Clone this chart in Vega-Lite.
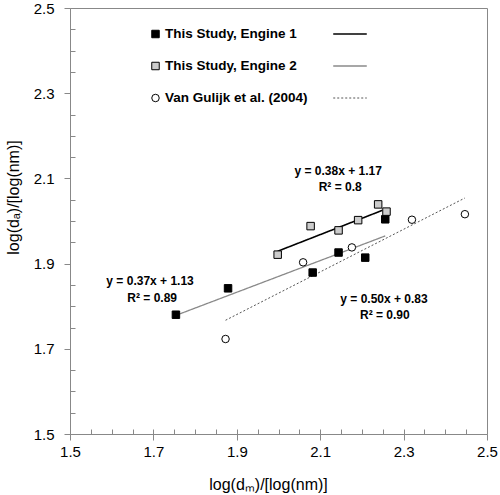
{
  "$schema": "https://vega.github.io/schema/vega-lite/v6.json",
  "width": 417,
  "height": 426,
  "autosize": {"type": "none"},
  "padding": {"left": 70, "top": 8, "right": 13, "bottom": 61},
  "background": "white",
  "config": {
    "view": {"stroke": "#888888", "strokeWidth": 1},
    "axis": {"grid": false, "domainColor": "#888888", "tickColor": "#888888", "labelColor": "#000000", "titleColor": "#000000", "labelFont": "Liberation Sans", "titleFont": "Liberation Sans"},
    "legend": {"symbolStrokeColor": "#000000", "symbolStrokeWidth": 1}
  },
  "datasets": {
    "points": [
      {"series": "This Study, Engine 1", "dm": 1.754, "da": 1.780},
      {"series": "This Study, Engine 1", "dm": 1.879, "da": 1.842},
      {"series": "This Study, Engine 1", "dm": 2.082, "da": 1.879},
      {"series": "This Study, Engine 1", "dm": 2.144, "da": 1.926},
      {"series": "This Study, Engine 1", "dm": 2.208, "da": 1.914},
      {"series": "This Study, Engine 1", "dm": 2.256, "da": 2.004},
      {"series": "This Study, Engine 2", "dm": 1.998, "da": 1.921},
      {"series": "This Study, Engine 2", "dm": 2.077, "da": 1.988},
      {"series": "This Study, Engine 2", "dm": 2.144, "da": 1.978},
      {"series": "This Study, Engine 2", "dm": 2.191, "da": 2.002},
      {"series": "This Study, Engine 2", "dm": 2.239, "da": 2.039},
      {"series": "This Study, Engine 2", "dm": 2.259, "da": 2.022},
      {"series": "Van Gulijk et al. (2004)", "dm": 1.873, "da": 1.723},
      {"series": "Van Gulijk et al. (2004)", "dm": 2.059, "da": 1.903},
      {"series": "Van Gulijk et al. (2004)", "dm": 2.176, "da": 1.938},
      {"series": "Van Gulijk et al. (2004)", "dm": 2.320, "da": 2.003},
      {"series": "Van Gulijk et al. (2004)", "dm": 2.447, "da": 2.016}
    ],
    "fits": [
      {"fit": "Engine 2 fit", "dm": 1.998, "da": 1.929},
      {"fit": "Engine 2 fit", "dm": 2.249, "da": 2.025},
      {"fit": "Engine 1 fit", "dm": 1.758, "da": 1.780},
      {"fit": "Engine 1 fit", "dm": 2.256, "da": 1.965},
      {"fit": "Van Gulijk fit", "dm": 1.873, "da": 1.767},
      {"fit": "Van Gulijk fit", "dm": 2.447, "da": 2.054}
    ],
    "notes": [
      {"label": "y = 0.38x + 1.17", "dm": 2.143, "da": 2.117},
      {"label": "R² = 0.8", "dm": 2.148, "da": 2.079},
      {"label": "y = 0.37x + 1.13", "dm": 1.692, "da": 1.859},
      {"label": "R² = 0.89", "dm": 1.697, "da": 1.819},
      {"label": "y = 0.50x + 0.83", "dm": 2.253, "da": 1.817},
      {"label": "R² = 0.90", "dm": 2.255, "da": 1.779}
    ]
  },
  "resolve": {"axis": {"x": "independent", "y": "independent"}},
  "layer": [
    {
      "data": {"name": "fits"},
      "mark": {"type": "line"},
      "encoding": {
        "x": {"field": "dm", "type": "quantitative", "scale": {"domain": [1.5, 2.5], "nice": false, "zero": false}, "axis": null},
        "y": {"field": "da", "type": "quantitative", "scale": {"domain": [1.5, 2.5], "nice": false, "zero": false}, "axis": null},
        "stroke": {"field": "fit", "type": "nominal", "scale": {"domain": ["Engine 2 fit", "Engine 1 fit", "Van Gulijk fit"], "range": ["#000000", "#8a8a8a", "#555555"]},
          "legend": {"orient": "none", "legendX": 273.25, "legendY": 19.25, "title": null, "symbolType": "M-3.05,0H3.05", "symbolSize": 121, "labelFont": "Liberation Sans", "labelFontWeight": "bold", "labelFontSize": 13.5, "labelOpacity": 0, "labelLimit": 300, "rowPadding": 17, "padding": 0}},
        "strokeDash": {"field": "fit", "type": "nominal", "scale": {"domain": ["Engine 2 fit", "Engine 1 fit", "Van Gulijk fit"], "range": [[1, 0], [1, 0], [2, 2]]},
          "legend": {"orient": "none", "legendX": 273.25, "legendY": 19.25, "title": null, "symbolType": "M-3.05,0H3.05", "symbolSize": 121, "labelFont": "Liberation Sans", "labelFontWeight": "bold", "labelFontSize": 13.5, "labelOpacity": 0, "labelLimit": 300, "rowPadding": 17, "padding": 0}},
        "strokeWidth": {"field": "fit", "type": "nominal", "scale": {"domain": ["Engine 2 fit", "Engine 1 fit", "Van Gulijk fit"], "range": [1.6, 1, 1]},
          "legend": {"orient": "none", "legendX": 273.25, "legendY": 19.25, "title": null, "symbolType": "M-3.05,0H3.05", "symbolSize": 121, "labelFont": "Liberation Sans", "labelFontWeight": "bold", "labelFontSize": 13.5, "labelOpacity": 0, "labelLimit": 300, "rowPadding": 17, "padding": 0}}
      }
    },
    {
      "data": {"name": "points"},
      "mark": {"type": "point", "filled": true, "size": 56, "opacity": 1, "stroke": "#000000", "strokeWidth": 1},
      "encoding": {
        "x": {"field": "dm", "type": "quantitative", "scale": {"domain": [1.5, 2.5], "nice": false, "zero": false},
          "axis": {"orient": "bottom", "values": [1.5, 1.7, 1.9, 2.1, 2.3, 2.5], "format": ".1f", "tickSize": 6, "labelFontSize": 15, "labelPadding": 4, "labelFlush": false, "labelOverlap": false, "title": "log(dₘ)/[log(nm)]", "titleFontSize": 16, "titleFontWeight": "normal", "titleX": 198, "titleY": 50, "titleBaseline": "middle", "titleAnchor": "middle"}},
        "y": {"field": "da", "type": "quantitative", "scale": {"domain": [1.5, 2.5], "nice": false, "zero": false},
          "axis": {"orient": "left", "values": [1.5, 1.7, 1.9, 2.1, 2.3, 2.5], "format": ".1f", "tickSize": 6, "labelFontSize": 15, "labelPadding": 10, "labelFlush": false, "labelOverlap": false, "title": "log(dₐ)/[log(nm)]", "titleFontSize": 16, "titleFontWeight": "normal", "titleX": -57, "titleY": 189, "titleBaseline": "middle", "titleAnchor": "middle"}},
        "shape": {"field": "series", "type": "nominal", "scale": {"domain": ["This Study, Engine 1", "This Study, Engine 2", "Van Gulijk et al. (2004)"], "range": ["square", "square", "circle"]},
          "legend": {"orient": "none", "legendX": 78.75, "legendY": 19.25, "title": null, "labelFont": "Liberation Sans", "labelFontWeight": "bold", "labelFontSize": 13.5, "labelColor": "#000000", "labelOffset": 2.75, "labelLimit": 300, "rowPadding": 17, "padding": 0, "symbolSize": 56}},
        "color": {"field": "series", "type": "nominal", "scale": {"domain": ["This Study, Engine 1", "This Study, Engine 2", "Van Gulijk et al. (2004)"], "range": ["#000000", "#cccccc", "#ffffff"]},
          "legend": {"orient": "none", "legendX": 78.75, "legendY": 19.25, "title": null, "labelFont": "Liberation Sans", "labelFontWeight": "bold", "labelFontSize": 13.5, "labelColor": "#000000", "labelOffset": 2.75, "labelLimit": 300, "rowPadding": 17, "padding": 0, "symbolSize": 56}}
      }
    },
    {
      "data": {"name": "notes"},
      "mark": {"type": "text", "font": "Liberation Sans", "fontWeight": "bold", "fontSize": 12, "align": "center", "baseline": "middle", "color": "#000000"},
      "encoding": {
        "x": {"field": "dm", "type": "quantitative", "scale": {"domain": [1.5, 2.5], "nice": false, "zero": false},
          "axis": {"orient": "bottom", "offset": -5, "values": [1.55, 1.6, 1.65, 1.7, 1.75, 1.8, 1.85, 1.9, 1.95, 2.0, 2.05, 2.1, 2.15, 2.2, 2.25, 2.3, 2.35, 2.4, 2.45], "tickSize": 5, "labels": false, "domain": false, "title": null, "grid": false}},
        "y": {"field": "da", "type": "quantitative", "scale": {"domain": [1.5, 2.5], "nice": false, "zero": false},
          "axis": {"orient": "left", "offset": -5, "values": [1.55, 1.6, 1.65, 1.75, 1.8, 1.85, 1.95, 2.0, 2.05, 2.15, 2.2, 2.25, 2.35, 2.4, 2.45], "tickSize": 5, "labels": false, "domain": false, "title": null, "grid": false}},
        "text": {"field": "label", "type": "nominal"}
      }
    }
  ]
}
